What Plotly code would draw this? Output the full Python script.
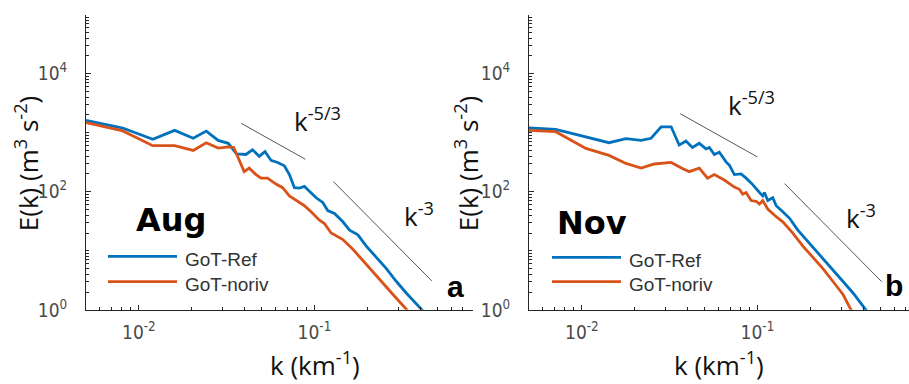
import numpy as np
import plotly.graph_objects as go

# ---- August spectra (panel a) ----
k_aug_ref = [0.005, 0.0081, 0.0120, 0.0160, 0.0204, 0.0242, 0.0283, 0.0323, 0.0360, 0.0407,
             0.0444, 0.0485, 0.0523, 0.0566, 0.0617, 0.0674, 0.0720, 0.0769, 0.0821, 0.0877,
             0.0936, 0.1023, 0.1115, 0.1191, 0.1301, 0.1390, 0.1452, 0.1585, 0.1768, 0.1974,
             0.2253, 0.2569, 0.2931, 0.3342, 0.4072, 0.415]
E_aug_ref = [1620, 1200, 776, 1096, 805, 1062, 741, 661, 437, 427,
             513, 398, 479, 339, 313, 275, 195, 117, 115, 123,
             102, 79, 66, 48, 43, 35.5, 31, 22.4, 18.6, 12.0,
             7.76, 5.01, 3.02, 1.91, 1.02, 0.95]

k_aug_noriv = [0.005, 0.0081, 0.0120, 0.0160, 0.0204, 0.0242, 0.0283, 0.0323, 0.0347, 0.0398,
               0.0425, 0.0465, 0.0496, 0.0541, 0.0604, 0.0659, 0.0720, 0.0786, 0.0877, 0.0957,
               0.1068, 0.1140, 0.1245, 0.1452, 0.1656, 0.1888, 0.2153, 0.2457, 0.2802, 0.3342,
               0.34]
E_aug_noriv = [1480, 1072, 603, 603, 501, 676, 550, 575, 562, 219,
               251, 195, 170, 170, 135, 117, 85, 71, 58, 46,
               33, 29, 20, 15.5, 10.6, 6.84, 4.37, 2.82, 1.82, 1.02,
               0.95]

# ---- November spectra (panel b) ----
k_nov_ref = [0.005, 0.0071, 0.01427, 0.01784, 0.02174, 0.0248, 0.02828, 0.03226, 0.03584, 0.03914,
             0.04268, 0.04663, 0.05093, 0.0532, 0.0568, 0.06067, 0.06624, 0.06918, 0.07389, 0.08072,
             0.08618, 0.09401, 0.1027, 0.1072, 0.1096, 0.1145, 0.1223, 0.1279, 0.1395, 0.1524,
             0.1699, 0.1898, 0.2118, 0.2361, 0.2694, 0.3073, 0.3505, 0.4088, 0.42]
E_nov_ref = [1200, 1135, 676, 794, 741, 805, 1259, 1259, 617, 724,
             562, 661, 531, 562, 427, 468, 320, 282, 195, 200,
             170, 132, 97, 85, 97, 71, 79, 58, 46, 35.5,
             22.4, 15.5, 10.6, 7.24, 4.68, 3.02, 1.93, 1.10, 0.95]

k_nov_noriv = [0.005, 0.0071, 0.01054, 0.01427, 0.01784, 0.02174, 0.02588, 0.03226, 0.03762, 0.04088,
               0.04663, 0.0520, 0.0568, 0.06477, 0.07389, 0.07892, 0.08241, 0.08618, 0.09204, 0.0983,
               0.1027, 0.1072, 0.1145, 0.1251, 0.1395, 0.1591, 0.1815, 0.2070, 0.2361, 0.2694,
               0.3073, 0.3355, 0.345]
E_nov_noriv = [1096, 1040, 543, 412, 302, 251, 295, 313, 245, 219,
               251, 170, 195, 158, 120, 110, 91, 97, 71, 69,
               62, 71, 51, 40, 31, 20, 12, 7.76, 5.01, 3.02,
               1.82, 1.10, 0.95]

# Reference power-law slopes: (k_start, k_end, E at k_start, exponent)
slopes_aug = [(0.0383, 0.0888, 1439, -5 / 3), (0.1284, 0.4663, 148, -3)]
slopes_nov = [(0.0363, 0.100, 2100, -5 / 3), (0.1426, 0.511, 137.5, -3)]

series_names = ["GoT-Ref", "GoT-noriv"]
month_labels = ["Aug", "Nov"]
panel_letters = ["a", "b"]
slope_labels = ["k<sup>-5/3</sup>", "k<sup>-3</sup>"]

BLUE = "#0072BD"
RED = "#D95319"
AXIS = "#262626"
W, H = 909, 384

def px(x):
    return x / W

def py(y):
    return 1 - y / H

fig = go.Figure()

panels = [
    ("x", "y", k_aug_ref, E_aug_ref, k_aug_noriv, E_aug_noriv, slopes_aug),
    ("x2", "y2", k_nov_ref, E_nov_ref, k_nov_noriv, E_nov_noriv, slopes_nov),
]
for xa, ya, k1, e1, k2, e2, slopes in panels:
    fig.add_trace(go.Scatter(x=k1, y=e1, mode="lines", xaxis=xa, yaxis=ya,
                             line=dict(color=BLUE, width=2.8), showlegend=False))
    fig.add_trace(go.Scatter(x=k2, y=e2, mode="lines", xaxis=xa, yaxis=ya,
                             line=dict(color=RED, width=2.8), showlegend=False))
    for k0, k1_, e0, p in slopes:
        kk = np.array([k0, k1_])
        fig.add_trace(go.Scatter(x=kk, y=e0 * (kk / k0) ** p, mode="lines",
                                 xaxis=xa, yaxis=ya, line=dict(color="#555555", width=1),
                                 showlegend=False))

# axis geometry
x_lo, x_hi = np.log10(0.005), np.log10(0.8)
left_px, right_px = 86, 473
right_start = 529
decades_per_px = (x_hi - x_lo) / (right_px - left_px)
x2_hi = x_lo + (W - right_start) * decades_per_px
y_dom = [py(319), py(15)]

minor_x = [m * 10.0 ** e for e in (-3, -2, -1) for m in range(2, 10)]
minor_y = [m * 10.0 ** e for e in range(0, 5) for m in range(1, 10)
           if not (m == 1 and e % 2 == 0)]

TICK_FONT = dict(family="Liberation Sans Narrow, DejaVu Sans Condensed, Liberation Sans",
                 size=19, color="#4a4a4a")

def xaxis(domain, rng, anchor):
    return dict(type="log", range=rng, domain=domain, anchor=anchor,
                showline=True, linecolor=AXIS, linewidth=1, mirror=False,
                ticks="inside", ticklen=5, tickwidth=1, tickcolor=AXIS,
                tickvals=[0.01, 0.1], ticktext=["10<sup>-2</sup>", "10<sup>-1</sup>"],
                tickfont=TICK_FONT, ticklabelstandoff=5,
                minor=dict(tickvals=minor_x, ticks="inside", ticklen=3, tickcolor=AXIS),
                showgrid=False, zeroline=False)

def yaxis(anchor):
    return dict(type="log", range=[0, 5], domain=y_dom, anchor=anchor,
                showline=True, linecolor=AXIS, linewidth=1, mirror=False,
                ticks="inside", ticklen=5, tickwidth=1, tickcolor=AXIS,
                tickvals=[1, 100, 10000],
                ticktext=["10<sup>0</sup>", "10<sup>2</sup>", "10<sup>4</sup>"],
                tickfont=TICK_FONT, ticklabelstandoff=14,
                minor=dict(tickvals=minor_y, ticks="inside", ticklen=3, tickcolor=AXIS),
                showgrid=False, zeroline=False)

fig.update_layout(
    width=W, height=H, autosize=False,
    margin=dict(l=0, r=0, t=0, b=0),
    paper_bgcolor="white", plot_bgcolor="white",
    xaxis=xaxis([px(left_px), px(right_px)], [x_lo, x_hi], "y"),
    yaxis=yaxis("x"),
    xaxis2=xaxis([px(right_start), 1.0], [x_lo, x2_hi], "y2"),
    yaxis2=yaxis("x2"),
    showlegend=False,
)

ann = []
shapes = []
TITLE_FONT = dict(family="Open Sans", size=26, color="#111111")

# per-panel text placement (pixel positions)
layout_px = [
    dict(ytitle=(27, 169), xtitle=(315, 375), month=(171, 227), letter=(456, 295),
         s53=(292, 124), s3=(402, 221), leg_x=(108, 177, 183), leg_y=(264, 290)),
    dict(ytitle=(467, 169), xtitle=(719, 375), month=(592, 230), letter=(894, 294),
         s53=(726, 107), s3=(844, 223), leg_x=(552, 621, 627), leg_y=(265, 290)),
]
for i, L in enumerate(layout_px):
    ann.append(dict(text="E(k) (m<sup>3</sup> s<sup>-2</sup>)", x=px(L["ytitle"][0]),
                    y=py(L["ytitle"][1]), textangle=-90, font=TITLE_FONT))
    ann.append(dict(text="k (km<sup>-1</sup>)", x=px(L["xtitle"][0]), y=py(L["xtitle"][1]),
                    font=TITLE_FONT))
    ann.append(dict(text="<b>%s</b>" % month_labels[i], x=px(L["month"][0]),
                    y=py(L["month"][1]),
                    font=dict(family="DejaVu Sans", size=32, color="black")))
    ann.append(dict(text="<b>%s</b>" % panel_letters[i], x=px(L["letter"][0]),
                    y=py(L["letter"][1]),
                    font=dict(family="Liberation Sans", size=30, color="black")))
    ann.append(dict(text=slope_labels[0], x=px(L["s53"][0]), y=py(L["s53"][1]),
                    xanchor="left", font=TITLE_FONT))
    ann.append(dict(text=slope_labels[1], x=px(L["s3"][0]), y=py(L["s3"][1]),
                    xanchor="left", font=TITLE_FONT))
    x0, x1, xt = L["leg_x"]
    for name, color, yy in zip(series_names, [BLUE, RED], L["leg_y"]):
        shapes.append(dict(type="line", xref="paper", yref="paper",
                           x0=px(x0), x1=px(x1), y0=py(yy), y1=py(yy),
                           line=dict(color=color, width=2.8)))
        ann.append(dict(text=name, x=px(xt), y=py(yy + 3), xanchor="left",
                        font=dict(family="Liberation Sans", size=19, color="#333333")))

for a in ann:
    a.setdefault("xref", "paper")
    a.setdefault("yref", "paper")
    a.setdefault("showarrow", False)
    a.setdefault("xanchor", "center")
    a.setdefault("yanchor", "middle")

fig.update_layout(annotations=ann, shapes=shapes)
fig.write_html("out.html")
